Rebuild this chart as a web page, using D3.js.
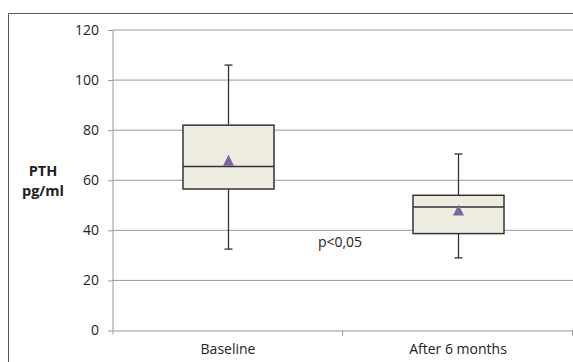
<!DOCTYPE html>
<html>
<head>
<meta charset="utf-8">
<script src="https://cdn.jsdelivr.net/npm/d3@7"></script>
<style>
  body { margin: 0; background: #fff; }
  svg text { font-family: "Open Sans", "Liberation Sans", sans-serif; fill: #222; }
</style>
</head>
<body>
<svg width="573" height="362"></svg>
<script>
// data
const categories = ["Baseline", "After 6 months"]
const whiskerLow = [32.5, 29]
const q1 = [56.5, 38.7]
const median = [65.5, 49.3]
const q3 = [82, 54]
const whiskerHigh = [106, 70.5]
const means = [68, 48.1]
const yTicks = [0, 20, 40, 60, 80, 100, 120]

const width = 573, height = 362
const plot = { left: 113, right: 573, top: 30, bottom: 330.5 }
const boxWidth = 91, capWidth = 8

const svg = d3.select('svg')

// outer frame (top + left edges visible)
svg.append('path')
    .attr('d', `M8.5,${height} V13.5 H${width}`)
    .attr('fill', 'none')
    .attr('stroke', '#595959')
    .attr('stroke-width', 1)

const y = d3.scaleLinear().domain([0, 120]).range([plot.bottom, plot.top])
const x = d3.scaleBand().domain(categories).range([plot.left, plot.right]).padding(0)

// gridlines
svg.append('g')
    .selectAll('line')
    .data(yTicks.filter(d => d > 0))
    .join('line')
    .attr('x1', plot.left).attr('x2', plot.right)
    .attr('y1', d => y(d)).attr('y2', d => y(d))
    .attr('stroke', '#999')

// y axis
const yAxis = svg.append('g')
    .attr('transform', `translate(${plot.left},0)`)
    .call(d3.axisLeft(y).tickValues(yTicks).tickSize(5).tickPadding(9))
yAxis.select('.domain').attr('stroke', '#999').attr('d', `M0,${plot.top}V${plot.bottom + 4}`)
yAxis.selectAll('.tick line').attr('stroke', '#999')
yAxis.selectAll('.tick text').attr('font-size', 14).attr('fill', '#222')

// x axis
const xAxis = svg.append('g')
    .attr('transform', `translate(0,${plot.bottom})`)
    .call(d3.axisBottom(x).tickSize(0).tickPadding(14))
xAxis.select('.domain').attr('stroke', '#999')
xAxis.selectAll('.tick text').attr('font-size', 14).attr('fill', '#222')
// category boundary ticks
xAxis.selectAll('.sep')
    .data(categories.slice(1).concat(['end']))
    .join('line')
    .attr('class', 'sep')
    .attr('x1', (d, i) => plot.left + x.bandwidth() * (i + 1) - 0.5)
    .attr('x2', (d, i) => plot.left + x.bandwidth() * (i + 1) - 0.5)
    .attr('y1', 0).attr('y2', 5)
    .attr('stroke', '#999')

// y axis title
const ytitle = svg.append('text')
    .attr('text-anchor', 'middle')
    .attr('font-size', 14.5)
    .attr('font-weight', 'bold')
ytitle.append('tspan').attr('x', 43).attr('y', 176).text('PTH')
ytitle.append('tspan').attr('x', 43).attr('y', 196).text('pg/ml')

// boxes
const boxes = svg.append('g')
    .selectAll('g')
    .data(categories)
    .join('g')
    .attr('transform', d => `translate(${Math.round(x(d) + x.bandwidth() / 2) + 0.5},0)`)

boxes.append('line')
    .attr('y1', (d, i) => y(whiskerHigh[i])).attr('y2', (d, i) => y(q3[i]))
    .attr('stroke', '#333').attr('stroke-width', 1.3)
boxes.append('line')
    .attr('y1', (d, i) => y(q1[i])).attr('y2', (d, i) => y(whiskerLow[i]))
    .attr('stroke', '#333').attr('stroke-width', 1.3)
boxes.append('line')
    .attr('x1', -capWidth / 2).attr('x2', capWidth / 2)
    .attr('y1', (d, i) => y(whiskerHigh[i])).attr('y2', (d, i) => y(whiskerHigh[i]))
    .attr('stroke', '#333').attr('stroke-width', 1.3)
boxes.append('line')
    .attr('x1', -capWidth / 2).attr('x2', capWidth / 2)
    .attr('y1', (d, i) => y(whiskerLow[i])).attr('y2', (d, i) => y(whiskerLow[i]))
    .attr('stroke', '#333').attr('stroke-width', 1.3)
boxes.append('rect')
    .attr('x', -boxWidth / 2).attr('width', boxWidth)
    .attr('y', (d, i) => y(q3[i]))
    .attr('height', (d, i) => y(q1[i]) - y(q3[i]))
    .attr('fill', '#EEECE1').attr('stroke', '#333').attr('stroke-width', 1.5)
boxes.append('line')
    .attr('x1', -boxWidth / 2).attr('x2', boxWidth / 2)
    .attr('y1', (d, i) => y(median[i])).attr('y2', (d, i) => y(median[i]))
    .attr('stroke', '#333').attr('stroke-width', 1.5)
// mean marker: triangle centred on its bounding box
boxes.append('path')
    .attr('d', 'M0,-5.5L5.5,5.5L-5.5,5.5Z')
    .attr('transform', (d, i) => `translate(0,${y(means[i])})`)
    .attr('fill', '#8064A2')

// significance label
svg.append('text')
    .attr('x', 340).attr('y', 247)
    .attr('text-anchor', 'middle')
    .attr('font-size', 14)
    .text('p<0,05')
</script>
</body>
</html>
